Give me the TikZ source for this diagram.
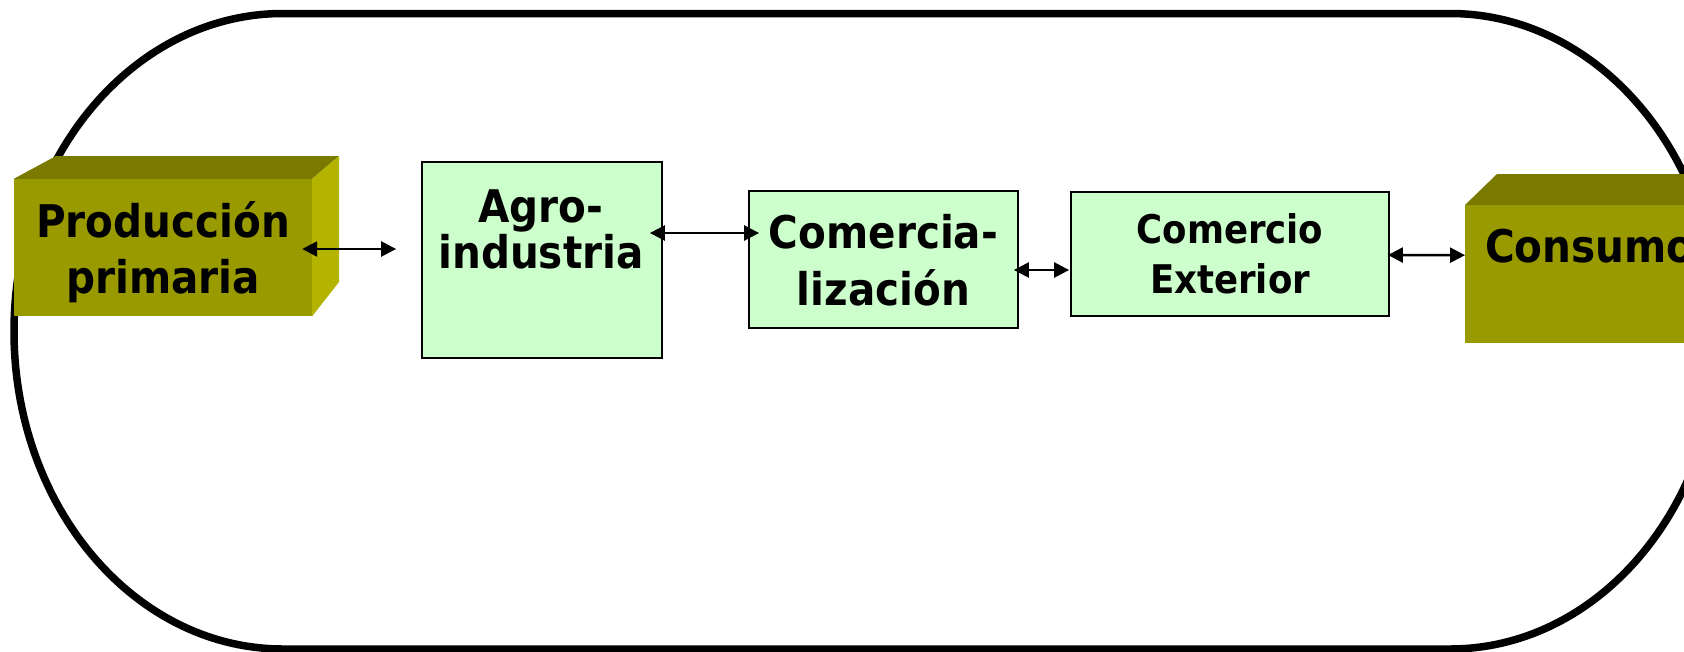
\documentclass[tikz,border=0pt]{standalone}
\usepackage{fontspec}
\setmainfont{DejaVu Sans Condensed}
\usetikzlibrary{arrows.meta}
\definecolor{gfill}{HTML}{CCFFCC}
\definecolor{olfront}{HTML}{999900}
\definecolor{oltop}{HTML}{7A7A00}
\definecolor{olside}{HTML}{B3B300}
\begin{document}
\begin{tikzpicture}[x=1pt,y=-1pt,
  gbox/.style={draw=black, line width=1.8pt, fill=gfill, inner sep=0pt, rectangle},
  cube/.style={fill=olfront, inner sep=0pt, rectangle, draw=none},
  lbl/.style={font=\bfseries\fontsize{45}{50}\selectfont, inner sep=0pt, text=black},
  lbls/.style={font=\bfseries\fontsize{39.5}{45}\selectfont, inner sep=0pt, text=black},
  dbl/.style={{Triangle[length=15pt,width=15pt]}-{Triangle[length=15pt,width=15pt]}, line width=2.5pt},
  outline/.style={line width=7.5pt}]
\useasboundingbox (0,0) rectangle (1684,651);
\clip (0,0) rectangle (1684,651);
% outer loop
\draw[outline] (283,13.5) -- (1450,13.5)
  arc[start angle=90,end angle=-90,x radius=269pt,y radius=317.75pt]
  -- (283,649)
  arc[start angle=270,end angle=90,x radius=269pt,y radius=317.75pt] -- cycle;
% Produccion primaria cube
\node[cube, minimum width=298pt, minimum height=137pt] (prod) at (163,247.5) {};
\fill[oltop] (prod.north west) -- (56,156) -- (339,156) -- (prod.north east) -- cycle;
\fill[olside] (prod.north east) -- (339,156) -- (339,282) -- (prod.south east) -- cycle;
\node[lbl, anchor=base] (prodA) at (163,237) {Producción};
\node[lbl, anchor=base] (prodB) at (163,293) {primaria};
% Consumo cube
\node[cube, minimum width=298pt, minimum height=138pt, anchor=north west] (cons) at (1465,205) {};
\fill[oltop] (cons.north west) -- (1497,174) -- (1800,174) -- (cons.north east) -- cycle;
\node[lbl, anchor=base west] (consA) at (1485,262) {Consumo};
% green boxes
\node[gbox, minimum width=240pt, minimum height=196pt] (agro) at (542,260) {};
\node[lbl, anchor=base] (agroA) at (541,222) {Agro-};
\node[lbl, anchor=base] (agroB) at (541,268) {industria};
\node[gbox, minimum width=269pt, minimum height=137pt] (comer) at (883.5,259.5) {};
\node[lbl, anchor=base] (comerA) at (883.5,248) {Comercia-};
\node[lbl, anchor=base] (comerB) at (883.5,305) {lización};
\node[gbox, minimum width=318pt, minimum height=124pt] (ext) at (1230,254) {};
\node[lbls, anchor=base] (extA) at (1230,243) {Comercio};
\node[lbls, anchor=base] (extB) at (1230,293) {Exterior};
% connectors
\draw[dbl] ([xshift=-10pt,yshift=-1.5pt]prod.east) -- ([xshift=-25pt,yshift=11pt]agro.west);
\draw[dbl] ([xshift=-13pt,yshift=27pt]agro.east) -- ([xshift=11pt,yshift=26.5pt]comer.west);
\draw[dbl] ([xshift=-5pt,yshift=-10.5pt]comer.east) -- ([xshift=-1pt,yshift=-16pt]ext.west);
\draw[dbl] ([xshift=-2pt,yshift=-1pt]ext.east) -- ([yshift=19pt]cons.west);
\end{tikzpicture}
\end{document}
